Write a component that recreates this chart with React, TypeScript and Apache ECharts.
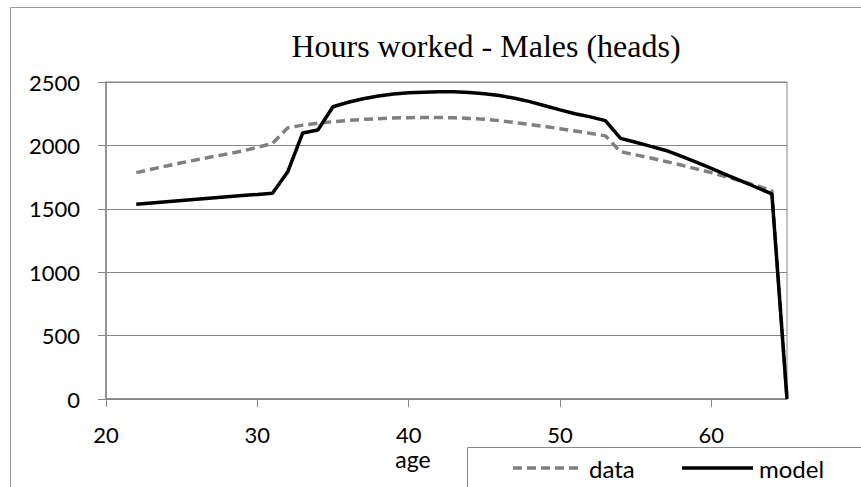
import React, { useEffect, useRef } from "react";
import * as echarts from "echarts";

const ages = [22, 23, 24, 25, 26, 27, 28, 29, 30, 31, 32, 33, 34, 35, 36, 37, 38, 39, 40, 41, 42, 43, 44, 45, 46, 47, 48, 49, 50, 51, 52, 53, 54, 55, 56, 57, 58, 59, 60, 61, 62, 63, 64, 65];
const dataValues = [1785, 1812, 1838, 1863, 1887, 1910, 1932, 1955, 1985, 2015, 2138, 2160, 2175, 2187, 2197, 2205, 2211, 2216, 2219, 2220, 2220, 2218, 2213, 2206, 2195, 2180, 2165, 2149, 2132, 2114, 2095, 2075, 1950, 1925, 1900, 1873, 1845, 1815, 1785, 1752, 1718, 1682, 1643, 0];
const modelValues = [1535, 1545, 1555, 1565, 1575, 1585, 1595, 1605, 1613, 1622, 1790, 2098, 2121, 2305, 2340, 2368, 2390, 2405, 2415, 2420, 2423, 2423, 2418, 2408, 2393, 2372, 2345, 2313, 2280, 2250, 2225, 2195, 2055, 2025, 1992, 1960, 1915, 1868, 1818, 1768, 1718, 1668, 1617, 0];
const xTicks = [20, 30, 40, 50, 60];
const seriesNames = ["data", "model"];
const titleText = "Hours worked - Males (heads)";
const xName = "age";

const FONT = "Lato";
const GRAY = "#868686";
const DATA_COLOR = "#808080";
const MODEL_COLOR = "#000000";
const DASH = [9, 5];

export default function App() {
  const ref = useRef<HTMLDivElement>(null);
  useEffect(() => {
    if (!ref.current) return;
    const chart = echarts.init(ref.current, null, { renderer: "svg" });
    chart.setOption({
      animation: false,
      backgroundColor: "#ffffff",
      grid: {
        left: 106,
        top: 82,
        right: 74,
        bottom: 88,
        show: true,
        borderColor: GRAY,
        borderWidth: 1,
        backgroundColor: "transparent",
      },
      graphic: [
        {
          type: "rect",
          shape: { x: 10.5, y: 7.5, width: 1000, height: 700 },
          style: { fill: "none", stroke: "#9a9a9a", lineWidth: 1 },
          silent: true,
          z: -1,
        },
        {
          type: "text",
          x: 486,
          y: 46,
          style: {
            text: titleText,
            font: '32px "Liberation Serif"',
            fill: "#000",
            align: "center",
            verticalAlign: "middle",
          },
        },
        {
          type: "text",
          x: 413,
          y: 459,
          style: {
            text: xName,
            font: `23px ${FONT}`,
            fill: "#000",
            align: "center",
            verticalAlign: "middle",
          },
        },
        {
          type: "group",
          z: 10,
          children: [
            {
              type: "rect",
              shape: { x: 467.5, y: 447.5, width: 600, height: 200 },
              style: { fill: "#fff", stroke: GRAY, lineWidth: 1 },
              silent: true,
            },
            {
              type: "line",
              shape: { x1: 513, y1: 468, x2: 583, y2: 468 },
              style: { stroke: DATA_COLOR, lineWidth: 3.5, lineDash: DASH },
            },
            {
              type: "text",
              x: 589,
              y: 468,
              style: {
                text: seriesNames[0],
                font: `24px ${FONT}`,
                fill: "#000",
                align: "left",
                verticalAlign: "middle",
              },
            },
            {
              type: "line",
              shape: { x1: 682, y1: 468, x2: 753, y2: 468 },
              style: { stroke: MODEL_COLOR, lineWidth: 3.5 },
            },
            {
              type: "text",
              x: 759,
              y: 468,
              style: {
                text: seriesNames[1],
                font: `24px ${FONT}`,
                fill: "#000",
                align: "left",
                verticalAlign: "middle",
              },
            },
          ],
        },
      ],
      xAxis: {
        type: "value",
        min: 20,
        max: 65,
        interval: 10,
        axisLine: { show: true, lineStyle: { color: GRAY, width: 1.5 } },
        axisTick: { show: true, length: 8, lineStyle: { color: GRAY }, customValues: xTicks },
        axisLabel: { margin: 24, fontFamily: FONT, fontSize: 22, color: "#000", customValues: xTicks, formatter: (v: number) => String(v) },
        splitLine: { show: false },
      },
      yAxis: {
        type: "value",
        min: 0,
        max: 2500,
        interval: 500,
        axisLine: { show: true, lineStyle: { color: GRAY, width: 1.5 } },
        axisTick: { show: true, length: 8, lineStyle: { color: GRAY } },
        axisLabel: { margin: 26, fontFamily: FONT, fontSize: 22, color: "#000", formatter: (v: number) => String(v) },
        splitLine: { show: true, lineStyle: { color: GRAY, width: 1 } },
      },
      series: [
        {
          name: seriesNames[0],
          type: "line",
          data: ages.map((a, i) => [a, dataValues[i]]),
          showSymbol: false,
          symbol: "none",
          lineStyle: { color: DATA_COLOR, width: 3.5, type: DASH },
          itemStyle: { color: DATA_COLOR },
          z: 3,
        },
        {
          name: seriesNames[1],
          type: "line",
          data: ages.map((a, i) => [a, modelValues[i]]),
          showSymbol: false,
          symbol: "none",
          lineStyle: { color: MODEL_COLOR, width: 3.5 },
          itemStyle: { color: MODEL_COLOR },
          z: 4,
        },
      ],
    });
    return () => chart.dispose();
  }, []);
  return <div ref={ref} style={{ width: 861, height: 487, position: "absolute", left: 0, top: 0 }} />;
}
